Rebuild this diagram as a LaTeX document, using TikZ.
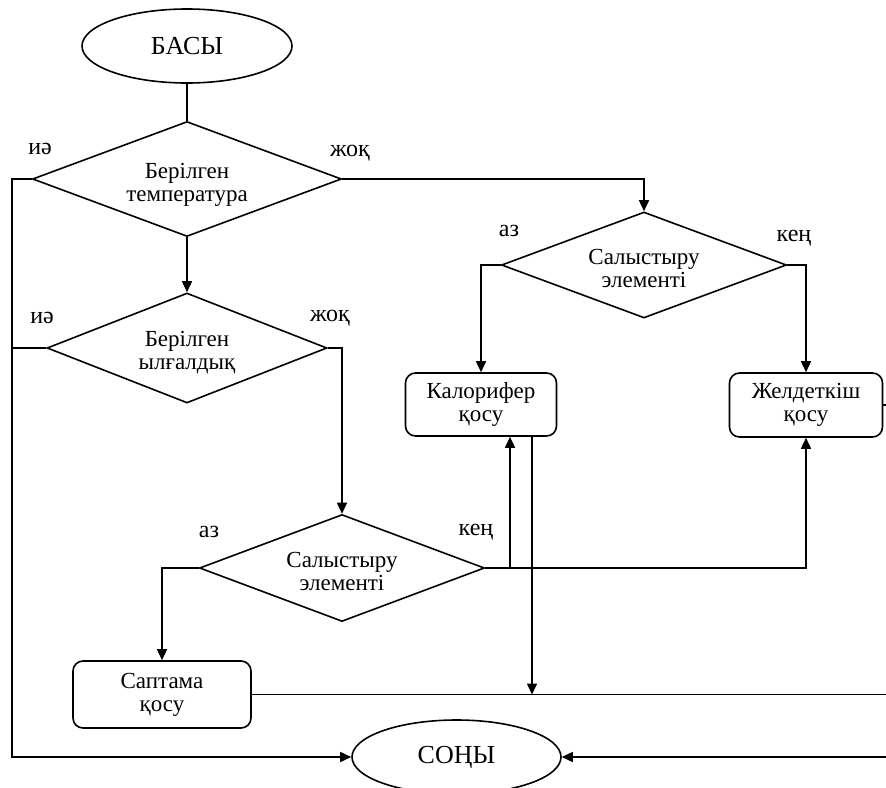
\documentclass[tikz,border=0pt]{standalone}
\usepackage{fontspec}
\setmainfont{Liberation Serif}
\usetikzlibrary{shapes.geometric,arrows.meta}
\begin{document}
\begin{tikzpicture}[x=1pt,y=-1pt,
  every node/.style={font=\fontsize{23}{23}\selectfont},
  line/.style={line width=1.6pt},
  arr/.style={line width=1.6pt,-{Triangle[length=11pt,width=10pt]}},
  term/.style={ellipse,draw,line width=1.6pt,inner sep=0pt,font=\fontsize{26}{26}\selectfont},
  decide/.style={diamond,draw,line width=1.6pt,inner sep=0pt},
  proc/.style={rectangle,rounded corners=10pt,draw,line width=1.6pt,inner sep=0pt,align=center},
  txt/.style={inner sep=0pt,align=center},
  lbl/.style={inner sep=0pt,font=\fontsize{24}{24}\selectfont}]
\useasboundingbox (0,0) rectangle (886,787);
\clip (0,0) rectangle (886,787);
% nodes
\node[term,minimum width=210pt,minimum height=74pt] (start) at (187,46) {БАСЫ};
\node[decide,minimum width=309pt,minimum height=115pt] (d1) at (187,179) {};
\node[txt] (t1) at (187,185) {Берілген\\температура};
\node[decide,minimum width=280pt,minimum height=110pt] (d3) at (187,348) {};
\node[txt] (t3) at (187,353) {Берілген\\ылғалдық};
\node[decide,minimum width=285pt,minimum height=106pt] (d2) at (644,265) {};
\node[txt] (t2) at (644,268) {Салыстыру\\элементі};
\node[decide,minimum width=285pt,minimum height=107pt] (d4) at (342,568) {};
\node[txt] (t4) at (342,571) {Салыстыру\\элементі};
\node[proc,minimum width=151pt,minimum height=63pt] (kal) at (481,404.5) {Калорифер\\қосу};
\node[proc,minimum width=153pt,minimum height=64pt] (zhel) at (806,405) {Желдеткіш\\қосу};
\node[proc,minimum width=178pt,minimum height=67pt] (sap) at (162,694.5) {Саптама\\қосу};
\node[term,minimum width=209pt,minimum height=74pt] (end) at (456.5,757) {СОҢЫ};
% labels
\node[lbl] (l1) at (40,149) {иә};
\node[lbl] (l2) at (350,153) {жоқ};
\node[lbl] (l3) at (42,318) {иә};
\node[lbl] (l4) at (330,318) {жоқ};
\node[lbl] (l5) at (509,231) {аз};
\node[lbl] (l6) at (794,238) {кең};
\node[lbl] (l7) at (209,532) {аз};
\node[lbl] (l8) at (476,532) {кең};
% helper coordinates
\coordinate (lcol) at (12,0);
\coordinate (kin) at (510,0);
\coordinate (kout) at (532,0);
\coordinate (redge) at (890,0);
% connectors
\draw[line] (start.south) -- (d1.north);
\draw[arr] (d1.south) -- (d3.north);
\draw[arr] (d1.west) -| (lcol |- end.west) -- (end.west);
\draw[line] (d3.west) -- (lcol |- d3.west);
\draw[arr] (d1.east) -| (d2.north);
\draw[arr] (d2.west) -| (kal.north);
\draw[arr] (d2.east) -| (zhel.north);
\draw[arr] (d3.east) -| (d4.north);
\draw[arr] (d4.west) -| (sap.north);
\draw[arr] (d4.east) -| (zhel.south);
\draw[arr] (kin |- d4.east) -- (kin |- kal.south);
\draw[arr] (kout |- kal.south) -- (kout |- sap.east);
\draw[line] (sap.east) -- (redge |- sap.east);
\draw[line] (zhel.east) -- (redge |- zhel.east);
\draw[arr] (redge |- end.east) -- (end.east);
\end{tikzpicture}
\end{document}
